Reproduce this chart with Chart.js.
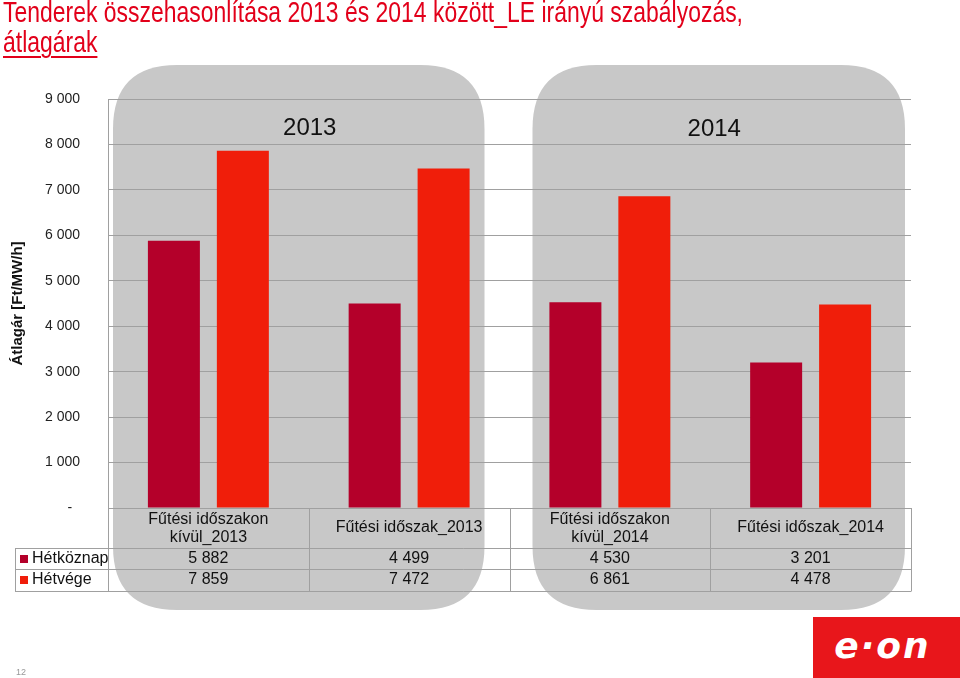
<!DOCTYPE html>
<html lang="hu">
<head>
<meta charset="utf-8">
<title>Tenderek összehasonlítása</title>
<script src="https://cdn.jsdelivr.net/npm/chart.js@4/dist/chart.umd.min.js"></script>
<style>
  html, body { margin: 0; padding: 0; background: #fff; }
  #wrap { position: relative; width: 960px; height: 678px; overflow: hidden; }
  #chart { position: absolute; left: 0; top: 0; }
  #title {
    position: absolute; left: 3px; top: -3px; z-index: 2;
    font: 29px "Liberation Sans", Arial, sans-serif; line-height: 30px;
    color: #e2001a; white-space: nowrap; transform-origin: 0 0;
  }
  #title .u { text-decoration: underline; text-underline-offset: 4px; text-decoration-thickness: 2px; }
  #logo {
    position: absolute; left: 813px; top: 617px; width: 147px; height: 61px;
    background: #e8161b; color: #fff; z-index: 2;
    font: italic bold 36px "DejaVu Sans", sans-serif; letter-spacing: 2px;
    line-height: 58px; text-indent: -8px; text-align: center;
  }
  #page { position: absolute; left: 16px; top: 667px; font: 9px Arial, sans-serif; color: #999; }
</style>
</head>
<body>
<div id="wrap">
  <canvas id="chart" width="960" height="678"></canvas>
  <div id="title"><span id="line1">Tenderek összehasonlítása 2013 és 2014 között_LE irányú szabályozás,</span><br><span class="u">átlagárak</span></div>
  <div id="logo">e·on</div>
  <div id="page">12</div>
</div>
<script>
/* ─── Data ─── */
const categories = [
  ['Fűtési időszakon', 'kívül_2013'],
  'Fűtési időszak_2013',
  ['Fűtési időszakon', 'kívül_2014'],
  'Fűtési időszak_2014'
];
const seriesNames = ['Hétköznap', 'Hétvége'];
const hetkoznap = [5882, 4499, 4530, 3201];
const hetvege   = [7859, 7472, 6861, 4478];
const yearLabels = ['2013', '2014'];

const COLORS = ['#b4002a', '#f01e0a'];
const LINE = '#a0a0a0';
const FONT = '"Liberation Sans", Arial, sans-serif';

/* squeeze the title to its narrow width */
const line1 = document.getElementById('line1');
const natural = line1.getBoundingClientRect().width;
document.getElementById('title').style.transform = `scaleX(${740 / natural})`;

function fmt(v) {
  if (v === 0) return '-  ';
  return String(v).replace(/\B(?=(\d{3})+(?!\d))/g, ' ');
}

function roundRect(ctx, x, y, w, h, r) {
  ctx.beginPath();
  ctx.moveTo(x + r, y);
  ctx.lineTo(x + w - r, y);
  ctx.quadraticCurveTo(x + w, y, x + w, y + r);
  ctx.lineTo(x + w, y + h - r);
  ctx.quadraticCurveTo(x + w, y + h, x + w - r, y + h);
  ctx.lineTo(x + r, y + h);
  ctx.quadraticCurveTo(x, y + h, x, y + h - r);
  ctx.lineTo(x, y + r);
  ctx.quadraticCurveTo(x, y, x + r, y);
  ctx.closePath();
}

/* grey year boxes behind the grid */
const yearBoxes = {
  id: 'yearBoxes',
  beforeDraw(chart) {
    const { ctx, chartArea: a } = chart;
    const catW = (a.right - a.left) / categories.length;
    const mid = a.left + catW * 2;
    ctx.save();
    ctx.fillStyle = '#c8c8c8';
    roundRect(ctx, a.left + 5, 65, mid - 25 - (a.left + 5), 545, 64);
    ctx.fill();
    roundRect(ctx, mid + 23, 65, a.right - 6 - (mid + 23), 545, 64);
    ctx.fill();
    ctx.restore();
  }
};

/* data table + year captions */
const dataTable = {
  id: 'dataTable',
  afterDraw(chart) {
    const { ctx, chartArea: a } = chart;
    const n = categories.length;
    const catW = (a.right - a.left) / n;
    const edges = [];
    for (let i = 0; i <= n; i++) edges.push(a.left + i * catW);
    const top = a.bottom, r1 = 548, r2 = 569, bot = 591, tl = 15;

    ctx.save();
    ctx.strokeStyle = LINE;
    ctx.lineWidth = 1;
    ctx.beginPath();
    edges.forEach(x => { const px = Math.round(x) + 0.5; ctx.moveTo(px, top); ctx.lineTo(px, bot); });
    [r1, r2, bot].forEach(y => { ctx.moveTo(tl, y + 0.5); ctx.lineTo(Math.round(a.right) + 0.5, y + 0.5); });
    ctx.moveTo(tl + 0.5, r1); ctx.lineTo(tl + 0.5, bot);
    ctx.stroke();

    ctx.fillStyle = '#111';
    ctx.font = `16px ${FONT}`;
    ctx.textAlign = 'center';
    ctx.textBaseline = 'middle';
    categories.forEach((c, i) => {
      const cx = (edges[i] + edges[i + 1]) / 2;
      if (Array.isArray(c)) {
        ctx.fillText(c[0], cx, 520);
        ctx.fillText(c[1], cx, 538);
      } else {
        ctx.fillText(c, cx, 528);
      }
      ctx.fillText(fmt(hetkoznap[i]), cx, 559);
      ctx.fillText(fmt(hetvege[i]), cx, 580);
    });

    // legend keys
    const rowY = [559, 580];
    ctx.textAlign = 'left';
    seriesNames.forEach((s, k) => {
      ctx.fillStyle = COLORS[k];
      ctx.fillRect(20, rowY[k] - 4, 8, 8);
      ctx.fillStyle = '#111';
      ctx.fillText(s, 32, rowY[k]);
    });

    // year captions
    ctx.textAlign = 'center';
    ctx.font = `24px ${FONT}`;
    ctx.fillText(yearLabels[0], edges[1] + 1, 128);
    ctx.fillText(yearLabels[1], edges[3] + 4, 129);
    ctx.restore();
  }
};

new Chart(document.getElementById('chart'), {
  type: 'bar',
  data: {
    labels: categories,
    datasets: [
      { label: seriesNames[0], data: hetkoznap, backgroundColor: COLORS[0] },
      { label: seriesNames[1], data: hetvege, backgroundColor: COLORS[1] }
    ]
  },
  options: {
    responsive: false,
    animation: false,
    devicePixelRatio: 1,
    categoryPercentage: 0.687,
    barPercentage: 0.754,
    layout: { padding: { top: 99, right: 49, bottom: 162, left: 0 } },
    plugins: { legend: { display: false }, tooltip: { enabled: false }, title: { display: false } },
    scales: {
      x: {
        ticks: { display: false },
        grid: { display: false },
        border: { display: true, color: LINE }
      },
      y: {
        min: 0, max: 9000,
        afterFit: s => { s.width = 108; },
        ticks: {
          stepSize: 1000,
          padding: 28,
          color: '#222',
          font: { family: FONT, size: 14 },
          callback: v => fmt(v)
        },
        grid: { color: LINE, drawTicks: false },
        border: { display: true, color: LINE },
        title: {
          display: true,
          text: 'Átlagár [Ft/MW/h]',
          color: '#111',
          font: { family: FONT, size: 15, weight: 'bold' },
          padding: { top: 9, bottom: 0 }
        }
      }
    }
  },
  plugins: [yearBoxes, dataTable]
});
</script>
</body>
</html>
